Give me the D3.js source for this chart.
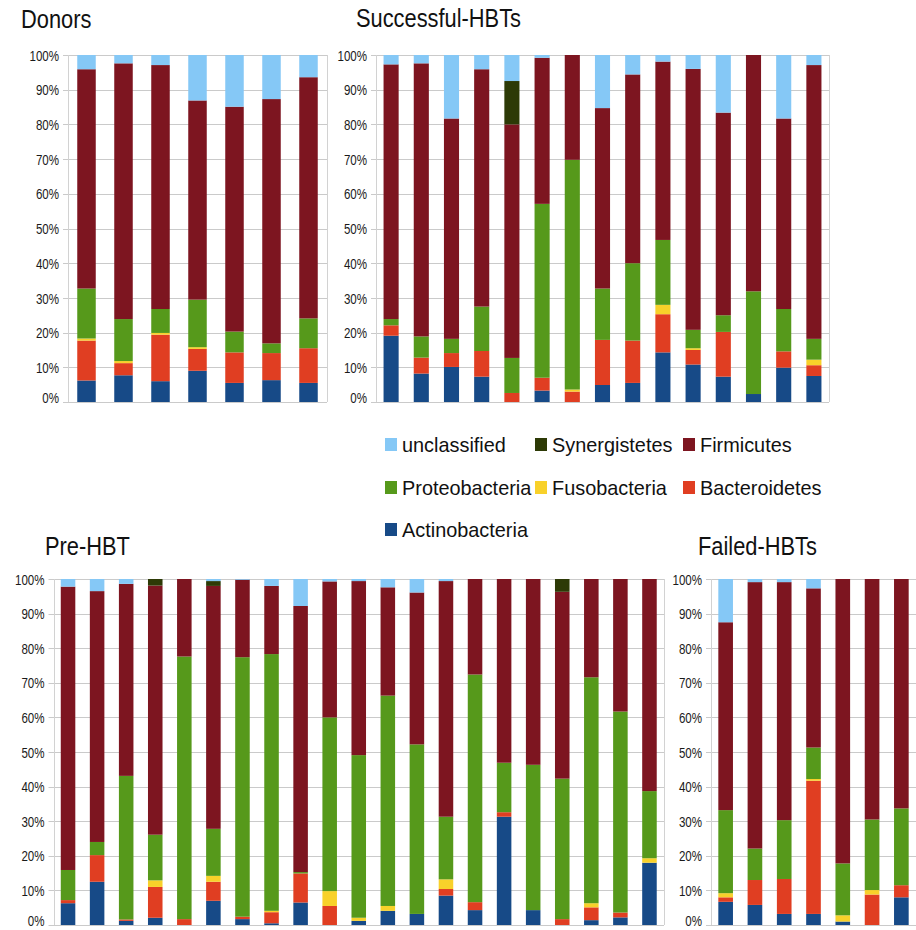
<!DOCTYPE html>
<html>
<head>
<meta charset="utf-8">
<script src="https://cdn.jsdelivr.net/npm/d3@7"></script>
<style>
  body { margin: 0; background: #fff; }
  svg { display: block; font-family: "Liberation Sans", Arial, Helvetica, sans-serif; }
</style>
</head>
<body>
<div id="chart"></div>
<script>
const width = 916;
const height = 930;

// stacking order, bottom to top
const phyla = ["Actinobacteria", "Bacteroidetes", "Fusobacteria", "Proteobacteria", "Firmicutes", "Synergistetes", "unclassified"];
const phylumColors = ["#174a87", "#e03e22", "#f8d12a", "#56991b", "#7d1520", "#2d3a06", "#85c8f6"];

// legend reads top-left to bottom-right
const legendOrder = ["unclassified", "Synergistetes", "Firmicutes", "Proteobacteria", "Fusobacteria", "Bacteroidetes", "Actinobacteria"];

const yTicks = [0, 10, 20, 30, 40, 50, 60, 70, 80, 90, 100];

// one row per phylum (same order as `phyla`), one column per sample, in %
const donorsValues = [
  [6.2, 7.7, 6.0, 9.0, 5.5, 6.3, 5.5],
  [11.5, 3.5, 13.4, 6.3, 8.8, 7.8, 10.0],
  [0.6, 0.6, 0.5, 0.5, 0, 0, 0],
  [14.4, 12.1, 6.9, 13.7, 6.0, 2.8, 8.6],
  [63.2, 73.7, 70.3, 57.4, 64.8, 70.4, 69.5],
  [0, 0, 0, 0, 0, 0, 0],
  [4.1, 2.4, 2.9, 13.1, 14.9, 12.7, 6.4]
];

const successValues = [
  [19.1, 8.2, 10.1, 7.3, 0, 3.3, 0, 4.9, 5.5, 14.3, 10.8, 7.3, 2.3, 9.9, 7.5],
  [3.0, 4.6, 4.0, 7.4, 2.6, 3.7, 3.0, 13.0, 12.2, 11.0, 4.2, 12.9, 0, 4.7, 3.1],
  [0, 0, 0, 0, 0, 0, 0.6, 0, 0, 2.7, 0.5, 0, 0, 0, 1.6],
  [1.8, 6.1, 4.1, 12.8, 10.1, 50.1, 66.2, 14.8, 22.3, 18.7, 5.3, 4.8, 29.6, 12.2, 6.0],
  [73.4, 78.7, 63.5, 68.4, 67.3, 42.1, 30.2, 52.0, 54.4, 51.4, 75.2, 58.4, 68.1, 54.9, 78.9],
  [0, 0, 0, 0, 12.5, 0, 0, 0, 0, 0, 0, 0, 0, 0, 0],
  [2.7, 2.4, 18.3, 4.1, 7.5, 0.8, 0, 15.3, 5.6, 1.9, 4.0, 16.6, 0, 18.3, 2.9]
];

const preValues = [
  [6.3, 12.5, 1.2, 2.1, 0, 7.0, 1.7, 0.5, 6.5, 0, 1.2, 4.1, 3.2, 8.5, 4.3, 31.3, 4.3, 0, 1.4, 2.2, 18.0],
  [0.9, 7.7, 0.4, 8.9, 1.7, 5.5, 0.7, 3.2, 8.4, 5.5, 0, 0, 0, 1.9, 2.3, 1.3, 0, 1.7, 3.7, 1.4, 0],
  [0, 0, 0, 1.9, 0, 1.7, 0, 0.4, 0, 4.3, 0.9, 1.4, 0, 2.8, 0, 0, 0, 0, 1.2, 0, 1.3],
  [8.7, 3.8, 41.5, 13.2, 75.9, 13.6, 75.0, 74.2, 0.4, 50.2, 47.0, 60.8, 49.0, 18.1, 65.8, 14.3, 42.0, 40.6, 65.3, 58.1, 19.4],
  [81.9, 72.5, 55.5, 72.0, 22.4, 70.2, 22.4, 19.7, 76.9, 39.3, 50.3, 31.3, 43.9, 68.1, 27.6, 53.1, 53.7, 54.0, 28.4, 38.3, 61.3],
  [0, 0, 0, 1.9, 0, 1.4, 0, 0, 0, 0, 0, 0, 0, 0, 0, 0, 0, 3.7, 0, 0, 0],
  [2.2, 3.5, 1.4, 0, 0, 0.6, 0.2, 2.0, 7.8, 0.7, 0.6, 2.4, 3.9, 0.6, 0, 0, 0, 0, 0, 0, 0]
];

const failedValues = [
  [6.7, 5.8, 3.2, 3.2, 1.0, 0, 8.0],
  [1.3, 7.2, 10.1, 38.5, 0, 8.8, 3.5],
  [1.2, 0, 0, 0.5, 1.8, 1.3, 0],
  [24.0, 9.1, 17.0, 9.1, 15.0, 20.4, 22.2],
  [54.3, 77.0, 68.8, 46.0, 82.2, 69.5, 66.3],
  [0, 0, 0, 0, 0, 0, 0],
  [12.5, 0.9, 0.9, 2.7, 0, 0, 0]
];

const color = d3.scaleOrdinal().domain(phyla).range(phylumColors);

const svg = d3
  .select("#chart")
  .append("svg")
  .attr("width", width)
  .attr("height", height);

// text in the original is a bit condensed
function squeezedText(g, x, y, str, size, sx) {
  return g
    .append("g")
    .attr("transform", `translate(${x},${y}) scale(${sx},1)`)
    .append("text")
    .style("font-size", size + "px")
    .style("fill", "#111")
    .text(str);
}

function drawPanel(values, left, right, top, bottom) {
  const n = values[0].length;
  const rows = d3.range(n).map((i) => {
    const row = { sample: i };
    phyla.forEach((p, k) => (row[p] = values[k][i]));
    return row;
  });
  const series = d3.stack().keys(phyla)(rows);

  const x = d3
    .scaleBand()
    .domain(d3.range(n))
    .range([left, right])
    .paddingInner(0.5)
    .paddingOuter(0.25);
  const y = d3.scaleLinear().domain([0, 100]).range([bottom, top]);

  const g = svg.append("g");

  // grid lines + left ticks
  g.selectAll(".grid")
    .data(yTicks)
    .join("line")
    .attr("x1", left - 5)
    .attr("x2", right)
    .attr("y1", (d) => Math.round(y(d)) + 0.5)
    .attr("y2", (d) => Math.round(y(d)) + 0.5)
    .attr("stroke", "#cacaca")
    .attr("stroke-width", 1);

  g.selectAll(".frame")
    .data([left, right])
    .join("line")
    .attr("x1", (d) => Math.round(d) + 0.5)
    .attr("x2", (d) => Math.round(d) + 0.5)
    .attr("y1", top)
    .attr("y2", bottom)
    .attr("stroke", "#d2d2d2");

  g.selectAll(".layer")
    .data(series)
    .join("g")
    .attr("fill", (d) => color(d.key))
    .selectAll("rect")
    .data((d) => d)
    .join("rect")
    .attr("x", (d) => x(d.data.sample))
    .attr("width", x.bandwidth())
    .attr("y", (d) => y(d[1]))
    .attr("height", (d) => Math.max(0, y(d[0]) - y(d[1])));

  const axis = g
    .append("g")
    .attr("transform", `translate(${left},0)`)
    .call(
      d3.axisLeft(y)
        .tickValues(yTicks)
        .tickSize(0)
        .tickFormat((d) => d + "%")
    );
  axis.select(".domain").remove();
  axis
    .selectAll("text")
    .attr("x", -9 / 0.77)
    .attr("transform", "scale(0.77,1)")
    .attr("dy", (d) => (d === 0 ? "0.05em" : "0.34em"))
    .style("font-size", "15px")
    .style("font-family", "'Liberation Sans', Arial, sans-serif")
    .style("fill", "#1a1a1a");
}

drawPanel(donorsValues, 68, 327, 55, 402);
drawPanel(successValues, 376, 829, 55, 402);
drawPanel(preValues, 53.5, 664, 579, 925);
drawPanel(failedValues, 711, 916, 579, 925);

// panel titles
squeezedText(svg, 21, 28, "Donors", 26, 0.84);
squeezedText(svg, 356, 27, "Successful-HBTs", 26, 0.84);
squeezedText(svg, 45, 555, "Pre-HBT", 26, 0.84);
squeezedText(svg, 698, 555, "Failed-HBTs", 26, 0.84);

// legend
const legendCols = [385, 535, 683];
const legendRows = [452, 495, 537];
const legend = svg
  .selectAll(".legend")
  .data(legendOrder)
  .join("g")
  .attr("transform", (d, i) => `translate(${legendCols[i % 3]},${legendRows[Math.floor(i / 3)]})`);

legend
  .append("rect")
  .attr("x", 0)
  .attr("y", -14)
  .attr("width", 12)
  .attr("height", 13)
  .attr("fill", (d) => color(d));

legend.each(function (d) {
  squeezedText(d3.select(this), 17, 0, d, 20.5, 0.97);
});
</script>
</body>
</html>
